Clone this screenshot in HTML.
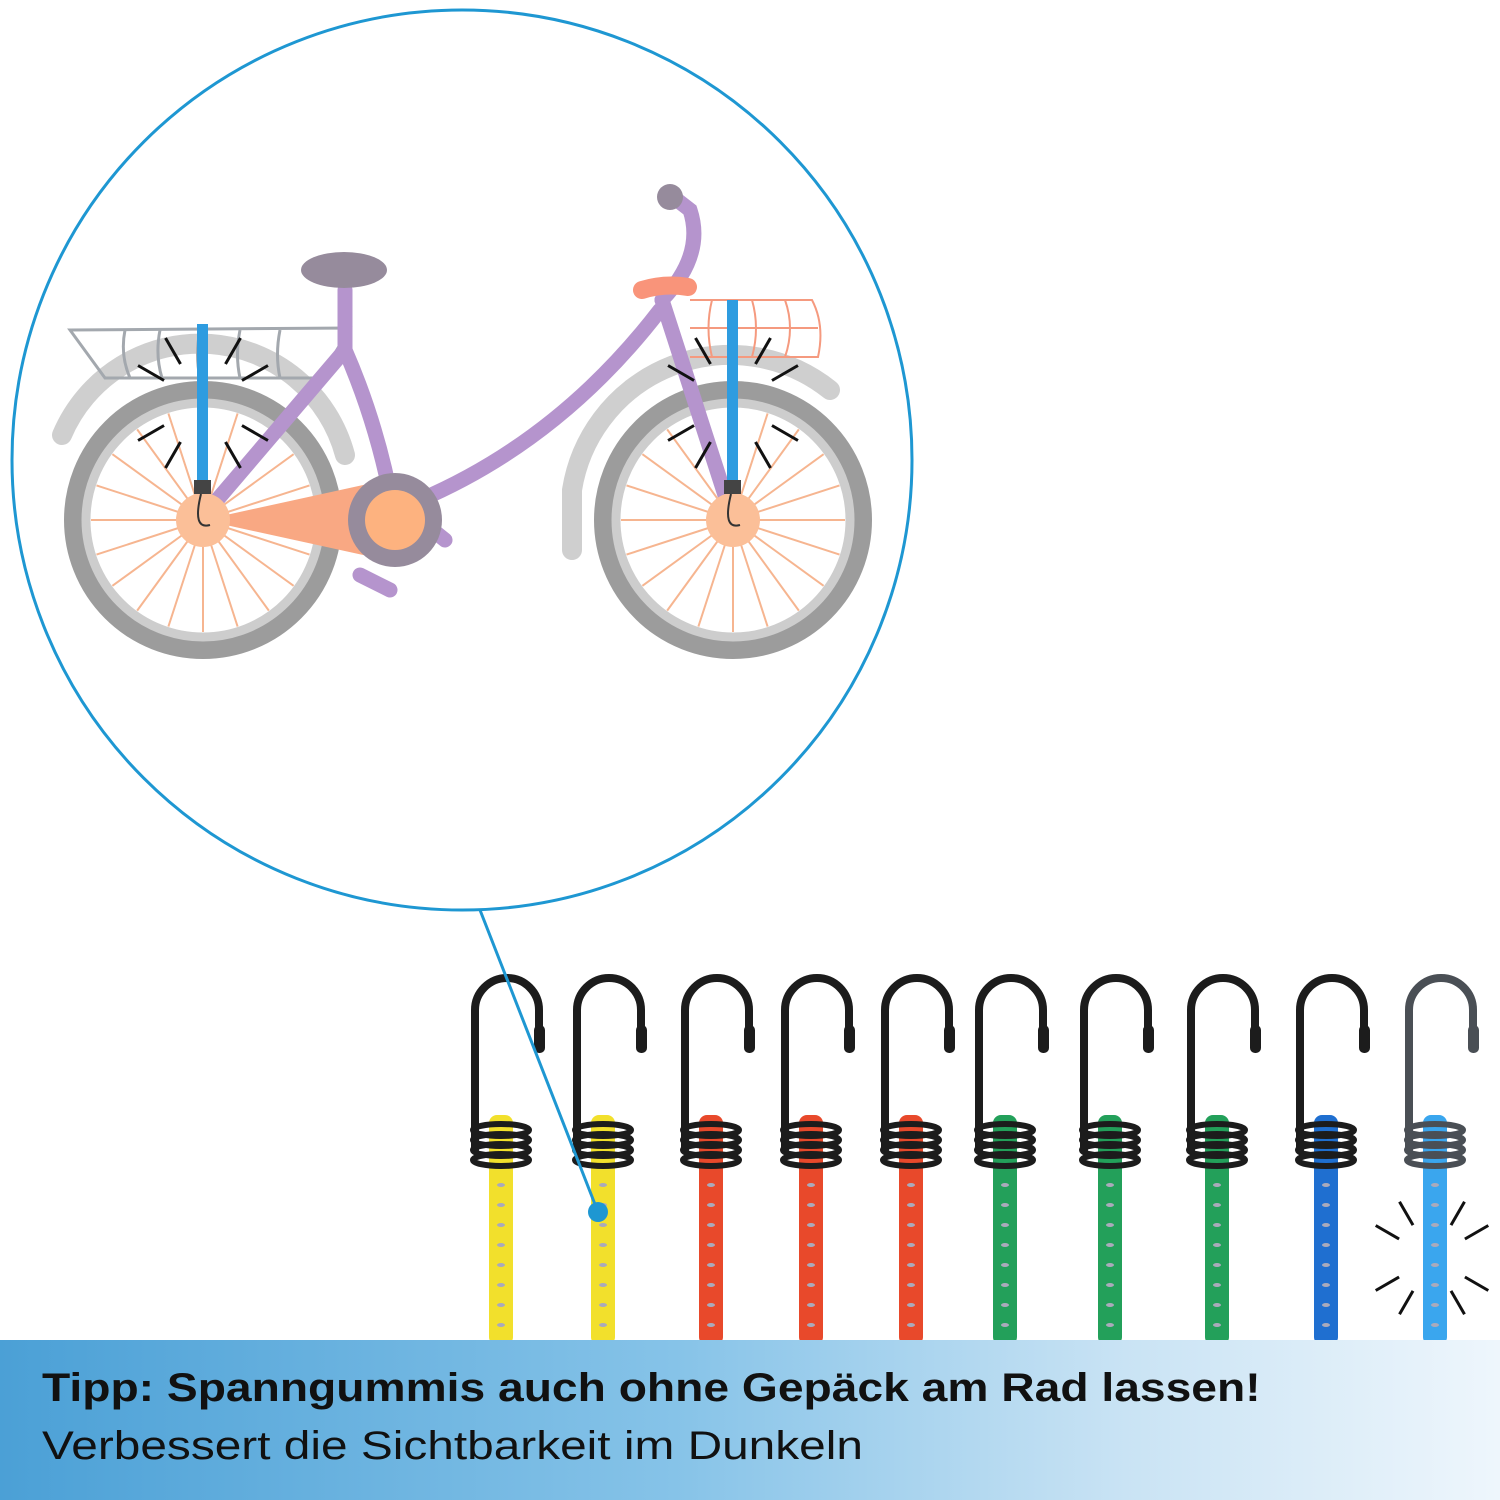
<!DOCTYPE html>
<html><head><meta charset="utf-8"><style>
html,body{margin:0;padding:0;background:#fff}
#w{position:relative;width:1500px;height:1500px;overflow:hidden}
svg{position:absolute;left:0;top:0}
#ban{position:absolute;left:0;top:1340px;width:1500px;height:160px;background:linear-gradient(90deg,#4ba0d6 0%,#86c3e8 45%,#c9e3f4 75%,#eef6fc 100%)}
.t1{position:absolute;left:42px;top:1366px;font:bold 40px "Liberation Sans",sans-serif;color:#111;white-space:nowrap;transform:scaleX(1.155);transform-origin:0 0}
.t2{position:absolute;left:42px;top:1424px;font:40px "Liberation Sans",sans-serif;color:#111;white-space:nowrap;transform:scaleX(1.195);transform-origin:0 0}
</style></head><body><div id="w">
<svg width="1500" height="1500" viewBox="0 0 1500 1500" id="s">
<g id="bike">
<path d="M62,435 A150,150 0 0 1 345,455" fill="none" stroke="#cfcfcf" stroke-width="20" stroke-linecap="round"/>
<path d="M572,550 L572,490 A160,160 0 0 1 830,390" fill="none" stroke="#cfcfcf" stroke-width="20" stroke-linecap="round"/>
<circle cx="203" cy="520" r="130" fill="none" stroke="#9c9c9c" stroke-width="18"/>
<circle cx="203" cy="520" r="117" fill="none" stroke="#cdcdcd" stroke-width="9"/>
<circle cx="733" cy="520" r="130" fill="none" stroke="#9c9c9c" stroke-width="18"/>
<circle cx="733" cy="520" r="117" fill="none" stroke="#cdcdcd" stroke-width="9"/>
<g id="spokes" stroke="#f6b590" stroke-width="2"></g>
<g fill="none" stroke="#a3a8ae" stroke-width="3">
<path d="M70,330 L350,328 L320,378 L105,378 Z"/>
<path d="M125,330 Q120,355 130,378 M160,330 Q155,355 162,378 M200,330 Q195,355 200,378 M240,330 Q235,355 240,378 M280,330 Q275,355 280,378"/>
</g>
<g fill="none" stroke="#f59a7f" stroke-width="2">
<path d="M690,300 L812,300 Q825,325 818,357 L690,357"/>
<path d="M690,328 L818,328 M712,300 Q705,328 712,357 M752,300 Q760,328 752,357 M785,300 Q795,328 785,357"/>
</g>
<g stroke="#b594cd" stroke-width="15" fill="none" stroke-linecap="round">
<path d="M345,290 L345,350 L200,520"/>
<path d="M345,350 Q380,430 395,520"/>
<path d="M420,500 Q560,440 660,310"/>
<path d="M662,300 L733,520"/>
<path d="M662,300 Q705,255 690,210 L672,196"/>
<path d="M420,520 L445,540 M360,575 L390,590"/>
</g>
<ellipse cx="344" cy="270" rx="43" ry="18" fill="#968b9c"/>
<circle cx="670" cy="197" r="13" fill="#968b9c"/>
<path d="M642,290 Q665,283 688,287" stroke="#f9947a" stroke-width="18" stroke-linecap="round" fill="none"/>
<path d="M203,520 L395,478 L395,562 Z" fill="#f9a883"/>
<circle cx="203" cy="520" r="27" fill="#fbbf98"/>
<circle cx="733" cy="520" r="27" fill="#fbbf98"/>
<circle cx="395" cy="520" r="47" fill="#968b9c"/>
<circle cx="395" cy="520" r="30" fill="#fdb27f"/>
<rect x="197" y="324" width="11" height="160" fill="#2e9ce0"/>
<rect x="727" y="300" width="11" height="184" fill="#2e9ce0"/>
<rect x="194" y="480" width="17" height="14" fill="#444"/>
<rect x="724" y="480" width="17" height="14" fill="#444"/>
<path d="M201,494 Q192,530 210,525" stroke="#333" stroke-width="2" fill="none"/>
<path d="M731,494 Q722,530 740,525" stroke="#333" stroke-width="2" fill="none"/>
<g id="spark" stroke="#111" stroke-width="3"></g>
</g>
<circle cx="462" cy="460" r="450" fill="none" stroke="#1e97d2" stroke-width="3"/>
<g id="hooks"></g>
<line x1="480" y1="910" x2="598" y2="1212" stroke="#1e97d2" stroke-width="3"/>
<circle cx="598" cy="1212" r="10" fill="#1e97d2"/>
</svg>
<div id="ban"></div>
<div class="t1">Tipp: Spanngummis auch ohne Gepäck am Rad lassen!</div>
<div class="t2">Verbessert die Sichtbarkeit im Dunkeln</div>
</div>
<script>
var NS="http://www.w3.org/2000/svg";
function el(p,t,a){var e=document.createElementNS(NS,t);for(var k in a)e.setAttribute(k,a[k]);p.appendChild(e);return e;}
var sp=document.getElementById('spokes');
[[203,520],[733,520]].forEach(function(c){for(var i=0;i<20;i++){var a=i*Math.PI/10;el(sp,'line',{x1:c[0],y1:c[1],x2:c[0]+112*Math.cos(a),y2:c[1]+112*Math.sin(a)});}});
var sk=document.getElementById('spark');
function spark(g,cx,cy,r1,r2,w,col){[-150,-120,-60,-30,30,60,120,150].forEach(function(d){var a=d*Math.PI/180;el(g,'line',{x1:cx+r1*Math.cos(a),y1:cy+r1*Math.sin(a),x2:cx+r2*Math.cos(a),y2:cy+r2*Math.sin(a),stroke:col,'stroke-width':w});});}
spark(sk,203,403,45,75,3,'#111');spark(sk,733,403,45,75,3,'#111');
var hk=document.getElementById('hooks');
var xs=[501,603,711,811,911,1005,1110,1217,1326,1435];
var cols=['#f2e02c','#f2e02c','#e8492b','#e8492b','#e8492b','#23a05a','#23a05a','#23a05a','#1f6fd0','#3aa6ee'];
xs.forEach(function(x,i){
 var c=cols[i];var hc=i==9?'#4a4f55':'#1c1c1c';
 el(hk,'rect',{x:x-12,y:1115,width:24,height:230,fill:c,rx:8});
 for(var y=1165;y<1340;y+=20)el(hk,'ellipse',{cx:x,cy:y,rx:4,ry:2,fill:'#aab'});
 el(hk,'path',{d:'M'+(x-26)+',1150 L'+(x-26)+',1010 A32,32 0 0 1 '+(x+38)+',1010 L'+(x+38)+',1045',fill:'none',stroke:hc,'stroke-width':8,'stroke-linecap':'round'});
 el(hk,'rect',{x:x+33,y:1025,width:11,height:28,rx:5,fill:hc});
 for(var k=0;k<4;k++)el(hk,'ellipse',{cx:x,cy:1130+k*10,rx:28,ry:6,fill:'none',stroke:hc,'stroke-width':6});
});
spark(hk,1432,1258,38,65,3,'#111');
</script>
</body></html>
